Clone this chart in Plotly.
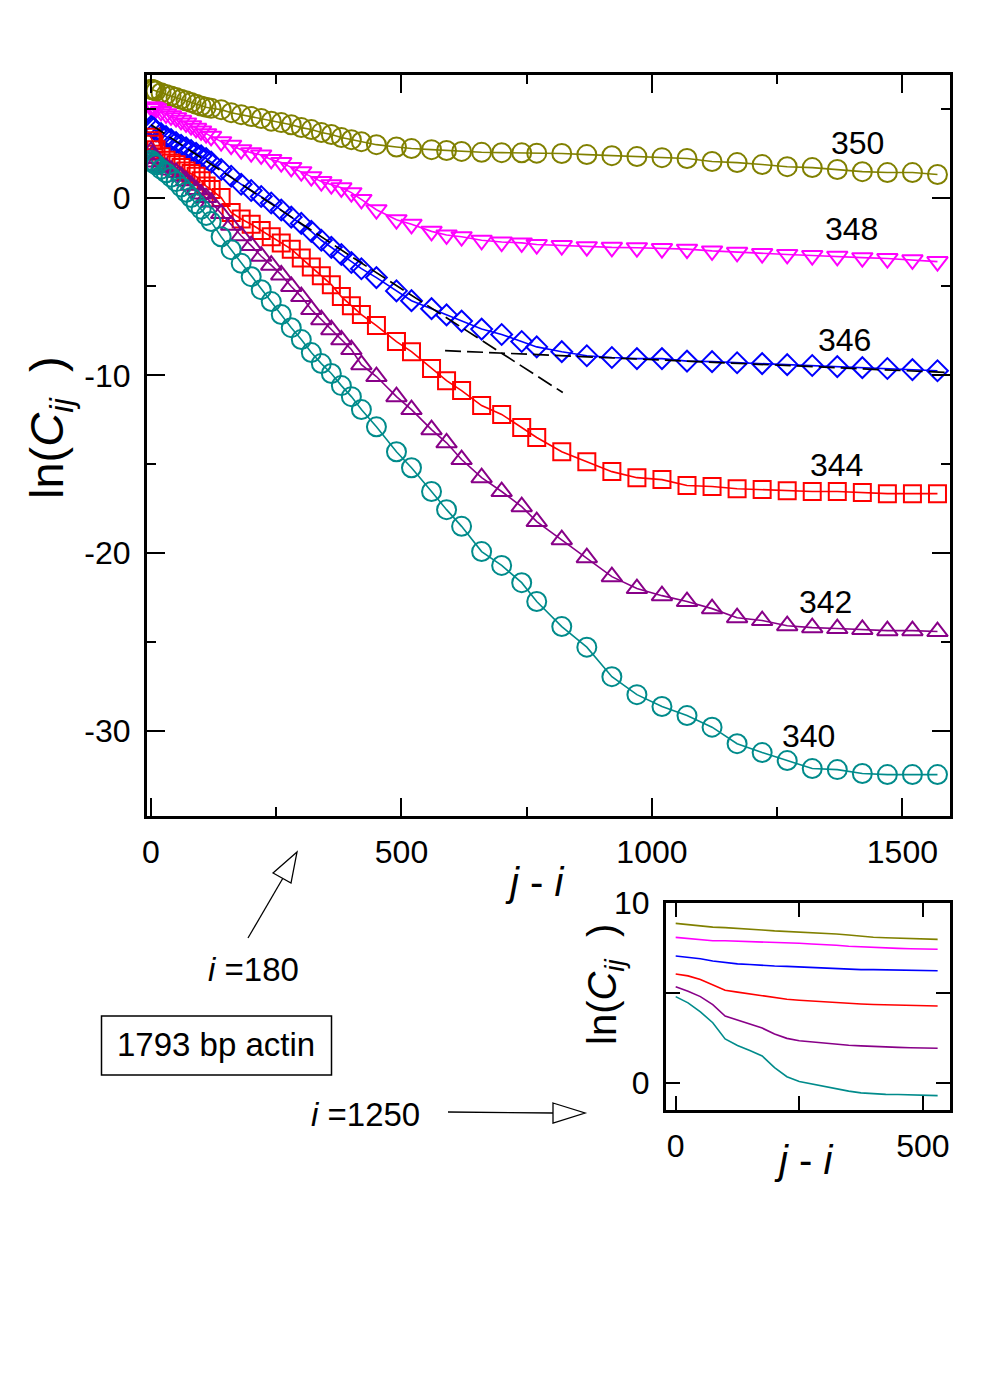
import plotly.graph_objects as go

# ---------------- data (main panel) ----------------
sep = [0, 3, 6, 10, 20, 30, 40, 50, 60, 70, 80, 90, 100, 110, 120, 140, 160, 180, 200,
       220, 240, 260, 280, 300, 320, 340, 360, 380, 400, 420, 450, 490, 520, 560, 590,
       620, 660, 700, 740, 770, 820, 870, 920, 970, 1020, 1070, 1120, 1170, 1220, 1270,
       1320, 1370, 1420, 1470, 1520, 1570]

ln_c_350 = [6.1, 6.08, 6.05, 6.0, 5.9, 5.8, 5.72, 5.63, 5.53, 5.45, 5.35, 5.25, 5.15, 5.08,
            5.03, 4.95, 4.78, 4.67, 4.56, 4.45, 4.3, 4.22, 4.1, 3.94, 3.83, 3.66, 3.55, 3.38,
            3.26, 3.15, 2.98, 2.85, 2.76, 2.7, 2.65, 2.6, 2.55, 2.53, 2.52, 2.5, 2.48, 2.42,
            2.36, 2.31, 2.25, 2.2, 2.03, 1.97, 1.86, 1.74, 1.69, 1.58, 1.46, 1.41, 1.41, 1.3]
ln_c_348 = [5.1, 5.08, 5.05, 5.0, 4.85, 4.72, 4.6, 4.5, 4.35, 4.2, 4.05, 3.9, 3.75, 3.6,
            3.45, 3.15, 2.95, 2.7, 2.53, 2.4, 2.15, 1.97, 1.7, 1.46, 1.18, 0.9, 0.73, 0.55,
            0.28, -0.1, -0.68, -1.24, -1.5, -1.9, -2.1, -2.2, -2.4, -2.5, -2.55, -2.64,
            -2.7, -2.76, -2.8, -2.82, -2.87, -2.9, -3.0, -3.08, -3.15, -3.2, -3.26, -3.3,
            -3.38, -3.43, -3.5, -3.6]
ln_c_346 = [4.0, 3.95, 3.9, 3.75, 3.6, 3.43, 3.26, 3.1, 2.95, 2.8, 2.65, 2.5, 2.35, 2.2,
            2.0, 1.58, 1.2, 0.75, 0.4, 0.06, -0.3, -0.7, -1.1, -1.45, -1.9, -2.4, -2.8,
            -3.2, -3.65, -4.0, -4.5, -5.25, -5.8, -6.25, -6.6, -6.95, -7.4, -7.7, -8.1,
            -8.4, -8.67, -8.9, -9.0, -9.06, -9.06, -9.2, -9.23, -9.29, -9.34, -9.4, -9.45,
            -9.51, -9.57, -9.62, -9.68, -9.74]
ln_c_344 = [3.4, 3.2, 3.0, 2.7, 2.3, 2.1, 1.95, 1.85, 1.7, 1.5, 1.35, 1.2, 0.95, 0.65,
            0.45, 0.0, -0.84, -1.2, -1.5, -1.85, -2.2, -2.55, -2.9, -3.4, -3.9, -4.4, -4.9,
            -5.57, -6.08, -6.58, -7.2, -8.1, -8.67, -9.62, -10.3, -10.86, -11.7, -12.2,
            -12.94, -13.5, -14.3, -14.86, -15.42, -15.76, -15.87, -16.2, -16.26, -16.38,
            -16.43, -16.49, -16.54, -16.54, -16.6, -16.66, -16.66, -16.66]
ln_c_342 = [2.6, 2.4, 2.2, 2.0, 1.8, 1.7, 1.55, 1.42, 1.2, 0.95, 0.7, 0.45, 0.2, 0.0,
            -0.25, -0.9, -1.55, -2.15, -2.7, -3.3, -3.8, -4.35, -5.0, -5.57, -6.3, -6.87,
            -7.43, -8.0, -8.55, -9.4, -10.07, -11.2, -11.93, -13.06, -13.8, -14.74, -15.76,
            -16.54, -17.39, -18.23, -19.25, -20.26, -21.33, -22.0, -22.4, -22.73, -23.13,
            -23.64, -23.8, -24.09, -24.2, -24.25, -24.3, -24.37, -24.37, -24.42]
ln_c_340 = [2.1, 2.0, 1.92, 1.85, 1.6, 1.4, 1.15, 0.9, 0.6, 0.3, 0.0, -0.35, -0.65, -1.0,
            -1.35, -2.2, -2.93, -3.7, -4.45, -5.18, -5.85, -6.58, -7.32, -7.99, -8.72,
            -9.34, -9.9, -10.58, -11.2, -11.93, -12.9, -14.3, -15.2, -16.54, -17.56, -18.5,
            -19.92, -20.7, -21.67, -22.73, -24.14, -25.3, -26.96, -27.97, -28.64, -29.15,
            -29.8, -30.73, -31.23, -31.68, -32.13, -32.19, -32.41, -32.47, -32.47, -32.47]

# dashed fit lines
fit_short_x = [0, 410, 822]
fit_short_y = [4.1, -3.5, -10.97]
fit_long_x = [587, 1595]
fit_long_y = [-8.61, -9.85]

series_labels = ["350", "348", "346", "344", "342", "340"]
label_x = [1411, 1399, 1385, 1369, 1347, 1313]
label_y = [3.1, -1.74, -7.99, -15.03, -22.73, -30.28]

# ---------------- data (inset, i = 1250) ----------------
sep_in = [0, 25, 50, 75, 100, 125, 150, 175, 200, 225, 250, 275, 300, 325, 350, 375,
          400, 425, 450, 475, 500, 530]
in_350 = [8.87, 8.8, 8.7, 8.66, 8.63, 8.6, 8.55, 8.5, 8.45, 8.42, 8.4, 8.38, 8.33, 8.28,
          8.22, 8.15, 8.1, 8.07, 8.04, 8.01, 7.99, 7.98]
in_348 = [8.09, 8.02, 7.94, 7.9, 7.9, 7.88, 7.86, 7.85, 7.82, 7.8, 7.76, 7.72, 7.7, 7.65,
          7.6, 7.56, 7.53, 7.5, 7.48, 7.46, 7.44, 7.43]
in_346 = [7.06, 7.0, 6.9, 6.78, 6.68, 6.62, 6.58, 6.53, 6.5, 6.48, 6.45, 6.42, 6.38, 6.34,
          6.31, 6.3, 6.3, 6.29, 6.28, 6.27, 6.25, 6.24]
in_344 = [6.06, 5.95, 5.75, 5.45, 5.15, 5.05, 4.95, 4.87, 4.75, 4.65, 4.6, 4.55, 4.5, 4.46,
          4.42, 4.39, 4.36, 4.34, 4.32, 4.3, 4.29, 4.28]
in_342 = [5.35, 5.1, 4.8, 4.35, 3.72, 3.5, 3.3, 3.05, 2.72, 2.48, 2.35, 2.28, 2.22, 2.17,
          2.1, 2.06, 2.02, 2.0, 1.98, 1.96, 1.94, 1.93]
in_340 = [4.8, 4.45, 3.95, 3.35, 2.45, 2.08, 1.8, 1.5, 0.85, 0.35, 0.08, -0.05, -0.22,
          -0.32, -0.45, -0.55, -0.6, -0.63, -0.64, -0.66, -0.68, -0.7]

main_xticks = [0, 500, 1000, 1500]
main_xticktext = ["0", "500", "1000", "1500"]
main_yticks = [0, -10, -20, -30]
main_yticktext = ["0", "-10", "-20", "-30"]
inset_xticks = [0, 500]
inset_yticks = [0, 10]

# ---------------- styling ----------------
W, H = 981, 1379
OFF = 8  # page body margin of the html page
FONT = "Liberation Sans, Arial, Helvetica, sans-serif"
colors = ["#808000", "#ff00ff", "#0000ff", "#ff0000", "#880088", "#008b8b"]
symbols = ["circle-open", "triangle-down-open", "diamond-open", "square-open",
           "triangle-up-open", "circle-open"]
msizes = [19, 18, 16, 17, 18, 19]
main_series = [ln_c_350, ln_c_348, ln_c_346, ln_c_344, ln_c_342, ln_c_340]
inset_series = [in_350, in_348, in_346, in_344, in_342, in_340]


def px(x):
    return (x - OFF) / W


def py(y):
    return 1 - (y - OFF) / H


fig = go.Figure()

for ys, c, s, ms in zip(main_series, colors, symbols, msizes):
    fig.add_trace(go.Scatter(
        x=sep, y=ys, mode="lines+markers",
        line=dict(color=c, width=1.6),
        marker=dict(symbol=s, size=ms, color=c, line=dict(color=c, width=2)),
        xaxis="x", yaxis="y", showlegend=False))

fig.add_trace(go.Scatter(x=fit_short_x, y=fit_short_y, mode="lines",
                         line=dict(color="black", width=1.7, dash="16px,6px"),
                         xaxis="x", yaxis="y", showlegend=False))
fig.add_trace(go.Scatter(x=fit_long_x, y=fit_long_y, mode="lines",
                         line=dict(color="black", width=1.7, dash="16px,6px"),
                         xaxis="x", yaxis="y", showlegend=False))

for ys, c in zip(inset_series, colors):
    fig.add_trace(go.Scatter(x=sep_in, y=ys, mode="lines",
                             line=dict(color=c, width=1.6),
                             xaxis="x2", yaxis="y2", showlegend=False))

annotations = []
for t, lx, ly in zip(series_labels, label_x, label_y):
    annotations.append(dict(x=lx, y=ly, xref="x", yref="y", text=t, showarrow=False,
                            xanchor="center", yanchor="middle",
                            font=dict(size=32, color="black", family=FONT)))

title_font = dict(size=40, color="black", family=FONT)
text_font = dict(size=33, color="black", family=FONT)
ylab = "ln(<i>C</i><sub><i>ij</i></sub>&nbsp;&nbsp;)"


def note(x, y, text, font, angle=0):
    return dict(x=px(x), y=py(y), xref="paper", yref="paper", text=text,
                showarrow=False, xanchor="center", yanchor="middle",
                textangle=angle, font=font)


annotations += [
    note(534, 882, "<i>j</i> - <i>i</i>", title_font),
    note(50, 428, ylab, dict(size=47, color="black", family=FONT), -90),
    note(253, 970, "<i>i</i> =180", text_font),
    note(365, 1114, "<i>i</i> =1250", text_font),
    note(216, 1044, "1793 bp actin", text_font),
    note(803, 1160, "<i>j</i> - <i>i</i>", title_font),
    note(605, 985, ylab, dict(size=40, color="black", family=FONT), -90),
]

shapes = [
    dict(type="rect", xref="paper", yref="paper", x0=px(101.5), x1=px(331.5),
         y0=py(1075), y1=py(1016), line=dict(color="black", width=1.5)),
    dict(type="line", xref="paper", yref="paper", x0=px(248), y0=py(938),
         x1=px(283), y1=py(878), line=dict(color="black", width=1.3)),
    dict(type="path", xref="paper", yref="paper",
         path=f"M {px(273)} {py(873)} L {px(297)} {py(852)} L {px(291)} {py(883)} Z",
         line=dict(color="black", width=1.3), fillcolor="white"),
    dict(type="line", xref="paper", yref="paper", x0=px(448), y0=py(1112),
         x1=px(553), y1=py(1113), line=dict(color="black", width=1.3)),
    dict(type="path", xref="paper", yref="paper",
         path=f"M {px(553)} {py(1103)} L {px(585)} {py(1113)} L {px(553)} {py(1123)} Z",
         line=dict(color="black", width=1.3), fillcolor="white"),
]

tick_font = dict(size=32, color="black", family=FONT)
common = dict(showline=True, linewidth=3, linecolor="black", mirror="ticks",
              showgrid=False, zeroline=False, tickfont=tick_font, automargin=False,
              ticks="inside", tickwidth=2, tickcolor="black")

fig.update_layout(
    width=W, height=H, margin=dict(l=0, r=0, t=0, b=0, pad=0, autoexpand=False),
    paper_bgcolor="white", plot_bgcolor="white",
    font=dict(family=FONT, color="black"), showlegend=False,
    annotations=annotations, shapes=shapes,
    xaxis=dict(domain=[px(147), px(950)], range=[-8, 1595], anchor="y",
               tickvals=main_xticks, ticktext=main_xticktext, ticklen=18,
               minor=dict(dtick=250, tick0=0, ticks="inside", ticklen=9, tickwidth=2,
                          tickcolor="black", showgrid=False),
               ticklabelstandoff=6, **common),
    yaxis=dict(domain=[py(816), py(75)], range=[-34.8, 6.9], anchor="x",
               tickvals=main_yticks, ticktext=main_yticktext, ticklen=18,
               minor=dict(dtick=5, tick0=0, ticks="inside", ticklen=9, tickwidth=2,
                          tickcolor="black", showgrid=False),
               ticklabelstandoff=7, **common),
    xaxis2=dict(domain=[px(666), px(950)], range=[-19.6, 555], anchor="y2",
                tickvals=inset_xticks, ticklen=14,
                minor=dict(dtick=250, tick0=0, ticks="inside", ticklen=14, tickwidth=2,
                           tickcolor="black", showgrid=False),
                ticklabelstandoff=6, **common),
    yaxis2=dict(domain=[py(1110), py(903)], range=[-1.5, 10], anchor="x2",
                tickvals=inset_yticks, ticklen=14,
                minor=dict(dtick=5, tick0=0, ticks="inside", ticklen=14, tickwidth=2,
                           tickcolor="black", showgrid=False),
                ticklabelstandoff=7, **common),
)

fig.write_html("out.html")
